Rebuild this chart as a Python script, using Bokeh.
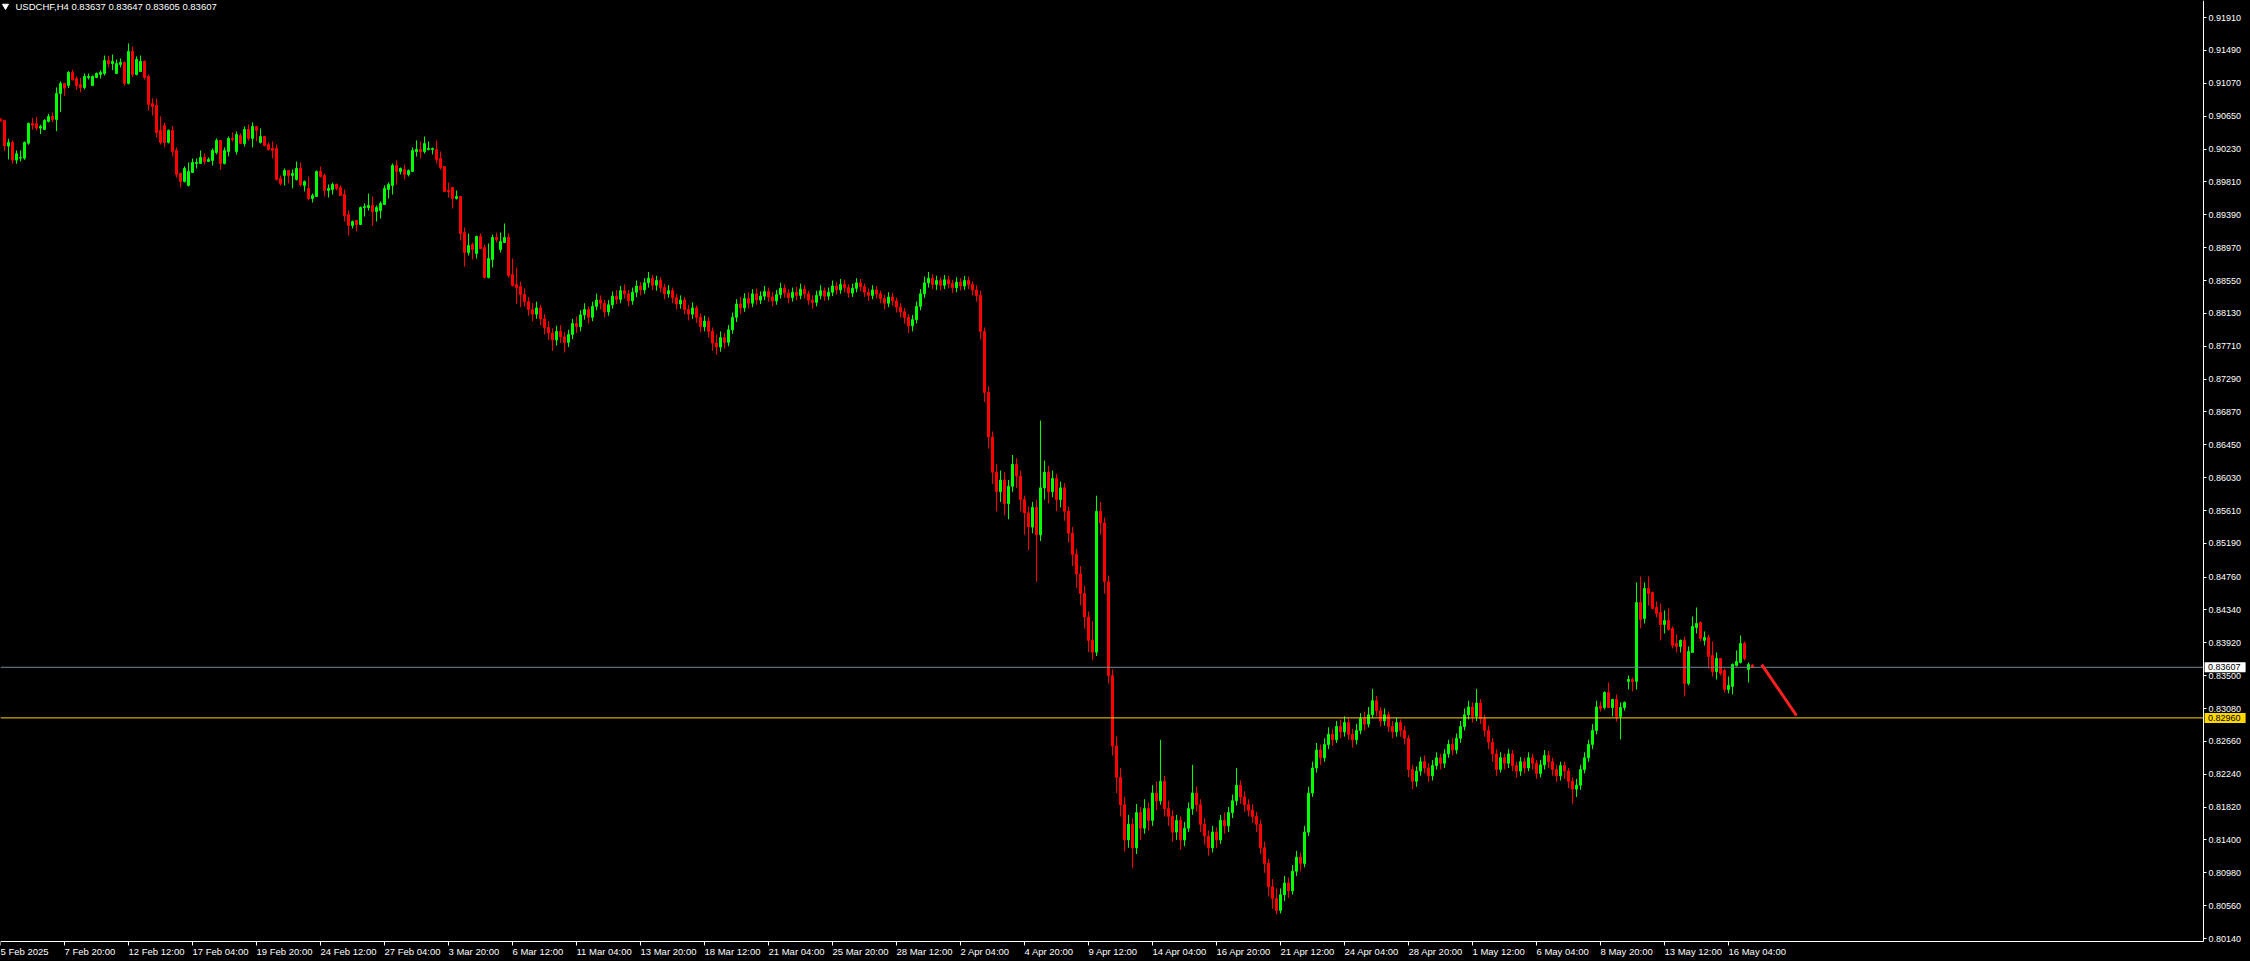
from bokeh.plotting import figure
from bokeh.models import Range1d, FixedTicker, Label, ColumnDataSource, PrintfTickFormatter
from bokeh.core.properties import value
from bokeh.embed import file_html
from bokeh.resources import INLINE

symbol_text = "USDCHF,H4  0.83637 0.83647 0.83605 0.83607"

# ---- bars 0..130 (5 Feb 04:00 onward) ----
opens_a = [0.90617,0.90596,0.90268,0.90315,0.90089,0.90114,0.90114,0.90306,0.90557,0.90553,
0.90498,0.90481,0.90583,0.90647,0.90609,0.90941,0.91069,0.91043,0.91209,0.91133,
0.91052,0.91018,0.91145,0.91043,0.91145,0.91184,0.91196,0.91363,0.91324,0.91196,
0.91311,0.91337,0.91069,0.91478,0.91184,0.91222,0.91350,0.91158,0.90813,0.90788,
0.90468,0.90532,0.90315,0.90468,0.90212,0.89918,0.89816,0.89765,0.89931,0.90046,
0.90046,0.90123,0.90072,0.90085,0.90187,0.90340,0.90046,0.90200,0.90366,0.90200,
0.90404,0.90302,0.90481,0.90366,0.90519,0.90315,0.90391,0.90289,0.90238,0.90238,
0.89855,0.89893,0.89957,0.89893,0.89841,0.89982,0.89765,0.89726,0.89598,0.89624,
0.89943,0.89892,0.89701,0.89713,0.89777,0.89739,0.89649,0.89394,0.89253,0.89317,
0.89266,0.89483,0.89483,0.89509,0.89432,0.89445,0.89522,0.89713,0.89765,0.90020,
0.89943,0.89969,0.89905,0.89943,0.90199,0.90225,0.90199,0.90225,0.90225,0.90225,
0.90109,0.90007,0.89700,0.89739,0.89598,0.89624,0.89164,0.88908,0.89010,0.88895,
0.89113,0.88972,0.88589,0.88819,0.89100,0.88946,0.89036,0.89100,0.88627,0.88499,
0.88473]
highs_a = [0.90630,0.90604,0.90362,0.90340,0.90212,0.90212,0.90327,0.90570,0.90630,0.90643,
0.90540,0.90613,0.90681,0.90698,0.91018,0.91094,0.91075,0.91226,0.91243,0.91158,
0.91141,0.91196,0.91196,0.91171,0.91209,0.91235,0.91426,0.91422,0.91439,0.91375,
0.91388,0.91350,0.91580,0.91542,0.91414,0.91426,0.91363,0.91184,0.90877,0.90877,
0.90647,0.90570,0.90481,0.90519,0.90251,0.89931,0.90008,0.90059,0.90110,0.90110,
0.90212,0.90174,0.90123,0.90238,0.90366,0.90345,0.90251,0.90391,0.90442,0.90455,
0.90430,0.90519,0.90545,0.90570,0.90525,0.90494,0.90395,0.90315,0.90327,0.90289,
0.89893,0.89982,0.89962,0.89970,0.90071,0.90058,0.89828,0.89879,0.89662,0.89956,
0.90007,0.89918,0.89777,0.89803,0.89790,0.89765,0.89713,0.89445,0.89317,0.89320,
0.89496,0.89535,0.89662,0.89624,0.89509,0.89560,0.89765,0.89803,0.90046,0.90084,
0.89995,0.90033,0.89969,0.90250,0.90340,0.90327,0.90391,0.90327,0.90250,0.90340,
0.90199,0.90012,0.89803,0.89743,0.89700,0.89628,0.89228,0.89151,0.89036,0.89125,
0.89151,0.89010,0.89023,0.89138,0.89164,0.89164,0.89279,0.89151,0.88831,0.88716,
0.88537]
lows_a = [0.90574,0.90204,0.90097,0.90042,0.90042,0.90072,0.90093,0.90285,0.90477,0.90468,
0.90421,0.90472,0.90570,0.90574,0.90459,0.90702,0.90907,0.91009,0.91107,0.90992,
0.90954,0.90992,0.91120,0.91043,0.91137,0.91133,0.91171,0.91273,0.91239,0.91196,
0.91273,0.91043,0.91056,0.91150,0.91171,0.91222,0.91120,0.90724,0.90660,0.90379,
0.90289,0.90251,0.90302,0.90136,0.89867,0.89740,0.89803,0.89752,0.89931,0.89982,
0.90046,0.90033,0.90072,0.90021,0.90161,0.89970,0.90033,0.90136,0.90327,0.90161,
0.90295,0.90264,0.90340,0.90251,0.90327,0.90302,0.90264,0.90212,0.90110,0.89829,
0.89765,0.89765,0.89791,0.89727,0.89828,0.89752,0.89688,0.89573,0.89547,0.89620,
0.89867,0.89624,0.89611,0.89649,0.89701,0.89632,0.89304,0.89125,0.89215,0.89177,
0.89262,0.89368,0.89445,0.89253,0.89304,0.89343,0.89518,0.89598,0.89649,0.89777,
0.89905,0.89841,0.89880,0.89940,0.90135,0.90110,0.90173,0.90212,0.90161,0.90046,
0.89969,0.89680,0.89611,0.89470,0.89585,0.89061,0.88729,0.88870,0.88819,0.88831,
0.88955,0.88576,0.88576,0.88716,0.89036,0.88908,0.89032,0.88589,0.88473,0.88252,
0.88210]
closes_a = [0.90587,0.90268,0.90315,0.90089,0.90170,0.90123,0.90315,0.90557,0.90536,0.90498,
0.90519,0.90596,0.90647,0.90609,0.90941,0.91069,0.91009,0.91209,0.91116,0.91043,
0.91018,0.91158,0.91158,0.91158,0.91196,0.91209,0.91363,0.91324,0.91350,0.91324,
0.91337,0.91069,0.91478,0.91184,0.91375,0.91350,0.91145,0.90800,0.90775,0.90442,
0.90315,0.90315,0.90468,0.90200,0.89906,0.89816,0.89982,0.89944,0.90059,0.90059,
0.90123,0.90072,0.90097,0.90212,0.90340,0.90046,0.90212,0.90366,0.90353,0.90417,
0.90302,0.90481,0.90366,0.90519,0.90468,0.90391,0.90276,0.90225,0.90212,0.89842,
0.89791,0.89957,0.89893,0.89918,0.89982,0.89777,0.89816,0.89598,0.89637,0.89943,
0.89880,0.89701,0.89726,0.89777,0.89726,0.89637,0.89381,0.89253,0.89304,0.89266,
0.89483,0.89496,0.89509,0.89432,0.89483,0.89535,0.89726,0.89777,0.90020,0.89943,
0.89982,0.89905,0.89956,0.90212,0.90225,0.90199,0.90301,0.90237,0.90237,0.90097,
0.89994,0.89688,0.89688,0.89598,0.89624,0.89151,0.88908,0.88998,0.88946,0.89113,
0.88959,0.88589,0.88831,0.89100,0.89074,0.89049,0.89100,0.88614,0.88486,0.88461,
0.88371]

# ---- bars 131..399 (7 Mar .. 8 May); each bar opens at the previous close ----
closes_m = [0.8828,0.8818,0.8812,0.8820,0.8806,0.8795,0.8788,0.8779,0.8790,0.8783,
0.8776,0.8786,0.8800,0.8796,0.8811,0.8818,0.8808,0.8822,0.8830,0.8826,
0.8815,0.8824,0.8835,0.8831,0.8842,0.8838,0.8829,0.8840,0.8848,0.8843,
0.8852,0.8858,0.8849,0.8855,0.8846,0.8838,0.8842,0.8833,0.8825,0.8830,
0.8818,0.8812,0.8820,0.8808,0.8796,0.8803,0.8790,0.8775,0.8770,0.8782,
0.8776,0.8792,0.8808,0.8825,0.8820,0.8832,0.8826,0.8838,0.8830,0.8835,
0.8841,0.8834,0.8829,0.8837,0.8845,0.8839,0.8833,0.8840,0.8836,0.8844,
0.8838,0.8830,0.8827,0.8836,0.8842,0.8835,0.8840,0.8848,0.8843,0.8850,
0.8846,0.8839,0.8845,0.8852,0.8847,0.8840,0.8836,0.8843,0.8838,0.8832,
0.8826,0.8834,0.8829,0.8821,0.8815,0.8808,0.8797,0.8805,0.8822,0.8838,
0.8852,0.8858,0.8850,0.8855,0.8849,0.8856,0.8851,0.8846,0.8853,0.8848,
0.8855,0.8850,0.8843,0.8836,0.8790,0.8712,0.8655,0.8610,0.8585,0.8600,
0.8570,0.8592,0.8620,0.8605,0.8575,0.8558,0.8540,0.8565,0.8530,0.8590,
0.8610,0.8585,0.8602,0.8575,0.8590,0.8560,0.8532,0.8505,0.8480,0.8455,
0.8425,0.8395,0.8380,0.8560,0.8545,0.8470,0.8350,0.8260,0.8220,0.8185,
0.8140,0.8160,0.8130,0.8175,0.8155,0.8180,0.8165,0.8200,0.8190,0.8215,
0.8180,0.8170,0.8150,0.8165,0.8140,0.8155,0.8180,0.8200,0.8185,0.8160,
0.8145,0.8130,0.8150,0.8140,0.8165,0.8158,0.8175,0.8190,0.8210,0.8195,
0.8185,0.8178,0.8170,0.8160,0.8130,0.8110,0.8080,0.8065,0.8050,0.8070,
0.8085,0.8075,0.8100,0.8118,0.8110,0.8150,0.8200,0.8232,0.8255,0.8245,
0.8262,0.8275,0.8268,0.8285,0.8278,0.8290,0.8275,0.8268,0.8280,0.8295,
0.8288,0.8300,0.8318,0.8305,0.8292,0.8300,0.8285,0.8278,0.8290,0.8280,
0.8270,0.8230,0.8215,0.8228,0.8240,0.8232,0.8222,0.8235,0.8245,0.8238,
0.8250,0.8262,0.8255,0.8270,0.8285,0.8300,0.8310,0.8298,0.8315,0.8295,
0.8280,0.8265,0.8250,0.8230,0.8245,0.8238,0.8250,0.8235,0.8228,0.8240,
0.8232,0.8245,0.8238,0.8225,0.8236,0.8248,0.8240,0.8230,0.8222,0.8235,
0.8228,0.8215,0.8205,0.8210,0.8230,0.8245,0.8262,0.8280,0.8310]
highs_m = [0.8845,0.8834,0.8826,0.8828,0.8824,0.8812,0.8803,0.8794,0.8797,0.8798,
0.8789,0.8792,0.8806,0.8809,0.8817,0.8826,0.8822,0.8828,0.8838,0.8836,
0.8830,0.8830,0.8841,0.8843,0.8848,0.8850,0.8843,0.8846,0.8855,0.8853,
0.8858,0.8866,0.8862,0.8861,0.8859,0.8851,0.8849,0.8846,0.8838,0.8836,
0.8834,0.8824,0.8827,0.8823,0.8813,0.8810,0.8808,0.8795,0.8786,0.8790,
0.8788,0.8798,0.8814,0.8831,0.8834,0.8839,0.8840,0.8844,0.8845,0.8841,
0.8848,0.8846,0.8840,0.8843,0.8852,0.8850,0.8844,0.8846,0.8847,0.8851,
0.8849,0.8842,0.8836,0.8842,0.8849,0.8846,0.8846,0.8855,0.8853,0.8857,
0.8856,0.8850,0.8851,0.8858,0.8857,0.8851,0.8845,0.8849,0.8848,0.8842,
0.8837,0.8840,0.8839,0.8833,0.8826,0.8820,0.8812,0.8811,0.8828,0.8844,
0.8860,0.8866,0.8863,0.8861,0.8859,0.8862,0.8861,0.8856,0.8859,0.8858,
0.8861,0.8860,0.8854,0.8849,0.8842,0.8795,0.8720,0.8662,0.8620,0.8612,
0.8610,0.8600,0.8632,0.8628,0.8612,0.8580,0.8566,0.8572,0.8575,0.8676,
0.8625,0.8618,0.8612,0.8608,0.8598,0.8596,0.8566,0.8540,0.8512,0.8490,
0.8465,0.8432,0.8420,0.8580,0.8572,0.8552,0.8478,0.8358,0.8272,0.8232,
0.8195,0.8172,0.8168,0.8186,0.8182,0.8192,0.8188,0.8210,0.8215,0.8268,
0.8222,0.8190,0.8178,0.8172,0.8170,0.8163,0.8188,0.8236,0.8208,0.8192,
0.8168,0.8152,0.8158,0.8156,0.8172,0.8175,0.8182,0.8198,0.8232,0.8216,
0.8202,0.8192,0.8186,0.8176,0.8166,0.8138,0.8116,0.8090,0.8078,0.8078,
0.8094,0.8092,0.8108,0.8126,0.8124,0.8158,0.8208,0.8240,0.8264,0.8262,
0.8270,0.8284,0.8282,0.8292,0.8294,0.8298,0.8296,0.8282,0.8288,0.8302,
0.8304,0.8310,0.8333,0.8324,0.8310,0.8308,0.8304,0.8292,0.8296,0.8294,
0.8286,0.8274,0.8236,0.8234,0.8246,0.8248,0.8238,0.8242,0.8252,0.8250,
0.8256,0.8268,0.8270,0.8276,0.8292,0.8308,0.8318,0.8316,0.8333,0.8320,
0.8300,0.8286,0.8270,0.8256,0.8252,0.8250,0.8256,0.8255,0.8240,0.8246,
0.8245,0.8252,0.8250,0.8242,0.8242,0.8255,0.8254,0.8245,0.8236,0.8240,
0.8240,0.8232,0.8220,0.8218,0.8236,0.8252,0.8268,0.8288,0.8318]
lows_m = [0.8822,0.8810,0.8803,0.8806,0.8798,0.8786,0.8779,0.8765,0.8772,0.8775,
0.8763,0.8770,0.8780,0.8788,0.8790,0.8805,0.8800,0.8803,0.8817,0.8818,
0.8808,0.8810,0.8819,0.8825,0.8826,0.8832,0.8822,0.8824,0.8834,0.8836,
0.8838,0.8846,0.8843,0.8842,0.8840,0.8831,0.8833,0.8826,0.8818,0.8819,
0.8812,0.8804,0.8806,0.8801,0.8789,0.8790,0.8782,0.8765,0.8760,0.8764,
0.8768,0.8771,0.8787,0.8802,0.8812,0.8815,0.8819,0.8821,0.8824,0.8825,
0.8830,0.8828,0.8822,0.8824,0.8832,0.8833,0.8826,0.8828,0.8830,0.8831,
0.8832,0.8824,0.8819,0.8822,0.8831,0.8829,0.8830,0.8835,0.8837,0.8838,
0.8840,0.8833,0.8834,0.8840,0.8841,0.8834,0.8829,0.8831,0.8832,0.8826,
0.8818,0.8821,0.8823,0.8814,0.8808,0.8800,0.8788,0.8790,0.8800,0.8817,
0.8833,0.8846,0.8844,0.8843,0.8842,0.8844,0.8845,0.8839,0.8840,0.8842,
0.8843,0.8844,0.8836,0.8828,0.8780,0.8700,0.8640,0.8595,0.8560,0.8572,
0.8555,0.8550,0.8585,0.8590,0.8560,0.8530,0.8510,0.8532,0.8470,0.8522,
0.8575,0.8570,0.8578,0.8560,0.8565,0.8548,0.8520,0.8490,0.8462,0.8440,
0.8410,0.8380,0.8370,0.8375,0.8530,0.8455,0.8340,0.8248,0.8200,0.8170,
0.8125,0.8130,0.8104,0.8122,0.8140,0.8148,0.8152,0.8158,0.8178,0.8185,
0.8170,0.8158,0.8138,0.8140,0.8128,0.8132,0.8150,0.8172,0.8176,0.8150,
0.8134,0.8120,0.8124,0.8130,0.8135,0.8148,0.8150,0.8168,0.8184,0.8186,
0.8176,0.8170,0.8162,0.8150,0.8122,0.8098,0.8068,0.8052,0.8045,0.8046,
0.8062,0.8066,0.8070,0.8094,0.8100,0.8105,0.8145,0.8195,0.8226,0.8236,
0.8240,0.8256,0.8260,0.8264,0.8270,0.8272,0.8268,0.8258,0.8262,0.8275,
0.8280,0.8284,0.8296,0.8298,0.8285,0.8286,0.8278,0.8270,0.8272,0.8272,
0.8262,0.8220,0.8205,0.8208,0.8222,0.8225,0.8214,0.8216,0.8230,0.8230,
0.8232,0.8245,0.8248,0.8250,0.8264,0.8280,0.8294,0.8290,0.8292,0.8288,
0.8272,0.8256,0.8240,0.8222,0.8226,0.8230,0.8232,0.8228,0.8220,0.8222,
0.8225,0.8228,0.8230,0.8218,0.8220,0.8230,0.8232,0.8222,0.8214,0.8216,
0.8218,0.8206,0.8186,0.8195,0.8204,0.8225,0.8240,0.8256,0.8275]

# ---- bars 400..438 (8 May 20:00 onward) ----
opens_b = [0.83110,0.83093,0.83285,0.83093,0.83196,0.82978,0.83093,0.83426,0.83451,0.83426,
0.84435,0.84231,0.84614,0.84563,0.84371,0.84307,0.84154,0.84205,0.84103,0.83911,
0.83873,0.83950,0.83400,0.83796,0.84116,0.84180,0.83950,0.83988,0.83758,0.83553,
0.83720,0.83566,0.83323,0.83362,0.83630,0.83668,0.83911,0.83579,0.83637]
highs_b = [0.83170,0.83298,0.83413,0.83196,0.83260,0.83157,0.83170,0.83502,0.83477,0.84691,
0.84768,0.84691,0.84768,0.84576,0.84448,0.84422,0.84333,0.84359,0.84129,0.84026,
0.83962,0.84001,0.83873,0.84256,0.84371,0.84192,0.84065,0.84026,0.83937,0.83796,
0.83725,0.83592,0.83490,0.83656,0.83822,0.84014,0.83937,0.83668,0.83647]
lows_b = [0.83040,0.83068,0.83093,0.82978,0.82914,0.82684,0.83055,0.83323,0.83298,0.83323,
0.84103,0.84167,0.84397,0.84346,0.84244,0.83950,0.84039,0.84077,0.83847,0.83796,
0.83796,0.83234,0.83375,0.83796,0.84039,0.83937,0.83886,0.83592,0.83490,0.83451,
0.83502,0.83285,0.83272,0.83260,0.83617,0.83656,0.83694,0.83413,0.83605]
closes_b = [0.83080,0.83285,0.83093,0.83196,0.82978,0.83093,0.83157,0.83451,0.83426,0.84435,
0.84218,0.84614,0.84550,0.84359,0.84295,0.84154,0.84205,0.84090,0.83886,0.83873,
0.83950,0.83400,0.83809,0.84129,0.84167,0.83975,0.83988,0.83745,0.83553,0.83720,
0.83528,0.83323,0.83375,0.83643,0.83681,0.83911,0.83720,0.83643,0.83607]

date_labels = ["5 Feb 2025", "7 Feb 20:00", "12 Feb 12:00", "17 Feb 04:00", "19 Feb 20:00",
               "24 Feb 12:00", "27 Feb 04:00", "3 Mar 20:00", "6 Mar 12:00", "11 Mar 04:00",
               "13 Mar 20:00", "18 Mar 12:00", "21 Mar 04:00", "25 Mar 20:00", "28 Mar 12:00",
               "2 Apr 04:00", "4 Apr 20:00", "9 Apr 12:00", "14 Apr 04:00", "16 Apr 20:00",
               "21 Apr 12:00", "24 Apr 04:00", "28 Apr 20:00", "1 May 12:00", "6 May 04:00",
               "8 May 20:00", "13 May 12:00", "16 May 04:00"]
bars_per_label = 16

price_ticks = [0.91910, 0.91490, 0.91070, 0.90650, 0.90230, 0.89810, 0.89390, 0.88970,
               0.88550, 0.88130, 0.87710, 0.87290, 0.86870, 0.86450, 0.86030, 0.85610,
               0.85190, 0.84760, 0.84340, 0.83920, 0.83500, 0.83080, 0.82660, 0.82240,
               0.81820, 0.81400, 0.80980, 0.80560, 0.80140]

bid_price = 0.83607
level_price = 0.82960
trend_x = [440.3, 449.0]
trend_y = [0.83642, 0.82990]

FONT = "Liberation Sans"
FS_X, FS_Y = "9.5px", "9px"
BULL, BEAR = "#00FF00", "#FF0000"
BID_COLOR, LEVEL_COLOR = "#778899", "#FFD700"

opens_m = [closes_a[-1]] + closes_m[:-1]
opens = opens_a + opens_m + opens_b
highs = highs_a + highs_m + highs_b
lows = lows_a + lows_m + lows_b
closes = closes_a + closes_m + closes_b
src = ColumnDataSource(dict(
    x=list(range(len(closes))), h=highs, l=lows,
    top=[max(o, c) for o, c in zip(opens, closes)],
    bot=[min(o, c) for o, c in zip(opens, closes)],
    color=[BULL if c >= o else BEAR for o, c in zip(opens, closes)]))

# The frame covers the whole canvas (4 px per bar); the two scales are pinned
# inside it: the price scale at bar 550.75, the time scale at price 0.80102.
W, H = 2248, 959
X0, X1 = 0.0, 562.0
Y0, Y1 = 0.79872, 0.92129
AXIS_X = 550.75
AXIS_Y = 0.80102

p = figure(width=W, height=H, output_backend="svg", toolbar_location=None,
           x_range=Range1d(X0, X1), y_range=Range1d(Y0, Y1),
           y_axis_location="right", x_axis_location="below",
           background_fill_color="black", border_fill_color="black",
           outline_line_color=None, min_border=0, min_border_left=0,
           min_border_right=0, min_border_top=0, min_border_bottom=0)
p.grid.visible = False

# candles
p.segment(x0="x", y0="l", x1="x", y1="h", color="color", line_width=1, source=src)
p.vbar(x="x", width=0.5, top="top", bottom="bot", fill_color="color",
       line_color="color", line_width=1, source=src)

# horizontal lines and trend line
p.line(x=[X0, AXIS_X], y=[bid_price, bid_price], line_color=BID_COLOR, line_width=1)
p.line(x=[X0, AXIS_X], y=[level_price, level_price], line_color=LEVEL_COLOR, line_width=1)
p.line(x=trend_x, y=trend_y, line_color="#FF2020", line_width=3)

# axes
ya = p.yaxis[0]
ya.ticker = FixedTicker(ticks=price_ticks)
ya.formatter = PrintfTickFormatter(format="%.5f")
ya.fixed_location = AXIS_X
ya.bounds = (AXIS_Y, Y1)
xa = p.xaxis[0]
xa.ticker = FixedTicker(ticks=[bars_per_label * k for k in range(len(date_labels))])
xa.major_label_overrides = {bars_per_label * k: t for k, t in enumerate(date_labels)}
xa.major_label_orientation = -0.00001   # numeric orientation -> labels start at their tick
xa.fixed_location = AXIS_Y
xa.bounds = (X0, AXIS_X)
for ax in (xa, ya):
    ax.axis_label = None
    ax.axis_line_color = "white"
    ax.axis_line_width = 1
    ax.major_tick_line_color = "white"
    ax.major_tick_in = 0
    ax.minor_tick_line_color = None
    ax.major_label_text_color = "white"
    ax.major_label_text_font = FONT
xa.major_label_text_font_size = FS_X
ya.major_label_text_font_size = FS_Y
xa.major_tick_out = 4
xa.major_label_standoff = 6
ya.major_tick_out = 3
ya.major_label_standoff = 2

# price tags on the price scale, drawn above the scale labels
tag_src = ColumnDataSource(dict(y=[bid_price, level_price],
                                t=[f"{bid_price:.5f}", f"{level_price:.5f}"],
                                bg=["white", LEVEL_COLOR]))
p.rect(x=AXIS_X + 5.4, y="y", width=41, height=10, width_units="screen",
       height_units="screen", fill_color="bg", line_color=None, source=tag_src,
       level="overlay")
p.text(x=AXIS_X + 1.1, y="y", text="t", text_color="black", text_font=value(FONT),
       text_font_size=value(FS_Y), text_baseline="middle", source=tag_src,
       level="overlay")

# header
p.scatter(x=[1.25], y=[0.92059], marker="inverted_triangle", size=6,
          fill_color="white", line_color="white")
p.add_layout(Label(x=3.75, y=0.92052, text=symbol_text, text_color="white",
                   text_font=FONT, text_font_size=FS_X, text_align="left",
                   text_baseline="middle"))

html = file_html(p, INLINE)
html = html.replace("<body>", '<body style="background-color:#000000;">')
open("out.html", "w").write(html)
